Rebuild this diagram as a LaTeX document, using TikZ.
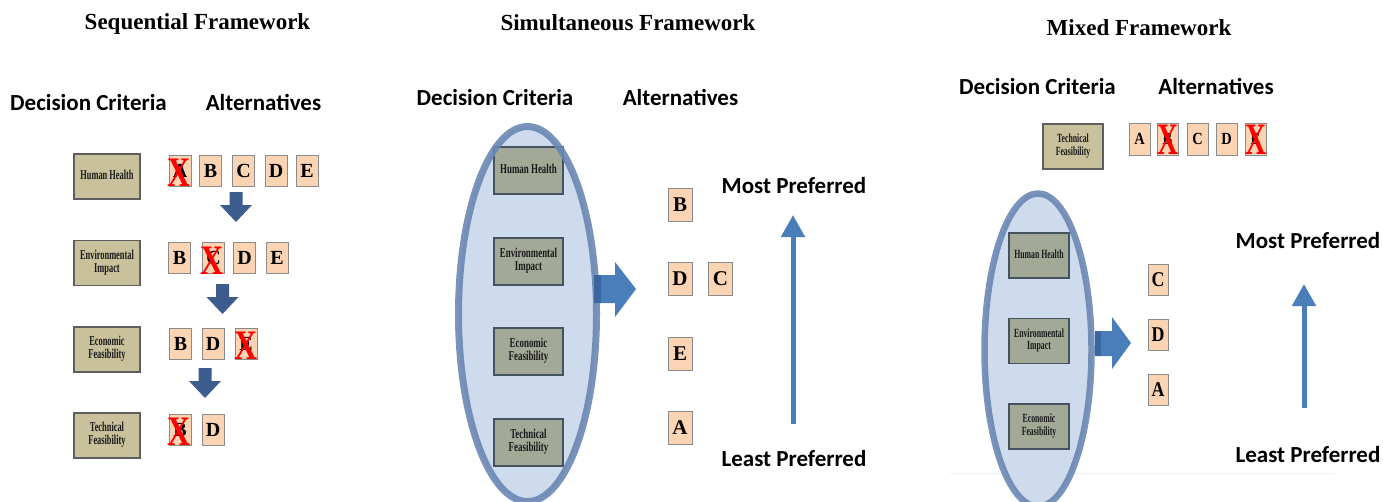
\documentclass[tikz,border=0pt]{standalone}
\usepackage{fontspec}
\setmainfont{Liberation Serif}
\newfontfamily\calib{Carlito}
\usetikzlibrary{arrows.meta}
\definecolor{khaki}{HTML}{C9C19B}
\definecolor{critborder}{HTML}{5E5E5E}
\definecolor{critinfill}{HTML}{A3A997}
\definecolor{critinborder}{HTML}{45525F}
\definecolor{peach}{HTML}{FBD4B4}
\definecolor{altborder}{HTML}{8A8A8A}
\definecolor{arrdark}{HTML}{3B5C8C}
\definecolor{arrblue}{HTML}{4A7EBB}
\definecolor{ellfill}{HTML}{CDDBED}
\definecolor{ellborder}{HTML}{6A87B3}
\definecolor{arrover}{HTML}{3A679F}
\newcommand\ct[2]{\scalebox{#1}[1]{\begin{tabular}{@{}c@{}}#2\end{tabular}}}
\newcommand\xs[2]{\scalebox{#1}[1]{#2}}
\tikzset{
  ttl/.style={font=\bfseries\fontsize{23}{27}\selectfont, anchor=base, inner sep=0},
  hdr/.style={font=\calib\bfseries\fontsize{23}{27}\selectfont, anchor=base, inner sep=0},
  crit/.style={draw=critborder, fill=khaki, line width=1.2pt, minimum width=66, minimum height=45, inner sep=0, text=black!90, font=\bfseries\fontsize{13.5}{13}\selectfont},
  critin/.style={crit, fill=critinfill, draw=critinborder, minimum width=69, minimum height=47},
  alt/.style={draw=altborder, fill=peach, line width=1pt, minimum width=22, minimum height=31, inner sep=0, font=\bfseries\fontsize{20}{24}\selectfont},
  redx/.style={text=red, inner sep=0, font=\bfseries\fontsize{42}{42}\selectfont},
  uparr/.style={draw=arrblue, line width=5pt, -{Triangle[width=23pt,length=22pt]}},
  blockdown/.pic={\fill[arrdark] (-6.5,0) -- (6.5,0) -- (6.5,13) -- (16,13) -- (0,30) -- (-16,13) -- (-6.5,13) -- cycle;}
}
\begin{document}
\begin{tikzpicture}[x=1pt,y=-1pt]
\useasboundingbox (0,0) rectangle (1383,501);
\clip (0,0) rectangle (1383,501);
% titles
\node[ttl] (t1) at (197.5,29) {Sequential Framework};
\node[ttl] (t2) at (628,30) {Simultaneous Framework};
\node[ttl] (t3) at (1139,35) {Mixed Framework};

% ---------------- panel 1
\node[hdr] (dc1) at (88.5,110) {Decision Criteria};
\node[hdr] (al1) at (263.5,110) {Alternatives};
\node[crit] (hh1) at (107,176.5) {\ct{0.62}{Human Health}};
\node[crit] (ei1) at (107,263) {\ct{0.62}{Environmental\\Impact}};
\node[crit] (ef1) at (107,349.5) {\ct{0.62}{Economic\\Feasibility}};
\node[crit] (tf1) at (107,435.5) {\ct{0.62}{Technical\\Feasibility}};
% row 1
\node[alt] (r1a) at (180,170.5) {A};
\node[alt] (r1b) at (210.5,170.5) {B};
\node[alt] (r1c) at (243.5,170.5) {C};
\node[alt] (r1d) at (276,170.5) {D};
\node[alt] (r1e) at (307,170.5) {E};
\node[redx] (x1) at (179,173) {\xs{0.76}{X}};
\pic at (236,192) {blockdown};
% row 2
\node[alt] (r2b) at (179.5,257.5) {B};
\node[alt] (r2c) at (213.5,257.5) {C};
\node[alt] (r2d) at (244.5,257.5) {D};
\node[alt] (r2e) at (277,257.5) {E};
\node[redx] (x2) at (212.5,261) {\xs{0.76}{X}};
\pic at (222.5,284) {blockdown};
% row 3
\node[alt] (r3b) at (180.5,344) {B};
\node[alt] (r3d) at (213,344) {D};
\node[alt] (r3e) at (246,344) {E};
\node[redx] (x3) at (246,346) {\xs{0.76}{X}};
\pic at (205,368) {blockdown};
% row 4
\node[alt] (r4b) at (180,429.5) {B};
\node[alt] (r4d) at (213,429.5) {D};
\node[redx] (x4) at (179,432) {\xs{0.76}{X}};

% ---------------- panel 2
\node[hdr] (dc2) at (495,105) {Decision Criteria};
\node[hdr] (al2) at (680.5,105) {Alternatives};
\fill[ellfill] (527.5,314) ellipse [x radius=69, y radius=187.5];
\node[critin] (hh2) at (528.5,170.5) {\ct{0.66}{Human Health}};
\node[critin] (ei2) at (528.5,261.5) {\ct{0.66}{Environmental\\Impact}};
\node[critin] (ef2) at (528.5,351.5) {\ct{0.66}{Economic\\Feasibility}};
\node[critin] (tf2) at (528.5,442.5) {\ct{0.66}{Technical\\Feasibility}};
\draw[ellborder, line width=7pt, opacity=0.9] (527.5,314) ellipse [x radius=69, y radius=187.5];
\fill[arrblue] (594,275) -- (615,275) -- (615,262) -- (636,289) -- (615,317) -- (615,303) -- (594,303) -- cycle;
\fill[arrover] (594,275) rectangle (601,303);
\begin{scope}[every node/.style={alt, minimum width=24, minimum height=33, font=\bfseries\fontsize{21}{24}\selectfont}]
\node (s2b) at (680,205) {B};
\node (s2d) at (680,279) {D};
\node (s2c) at (720.5,279) {C};
\node (s2e) at (680,354) {E};
\node (s2a) at (680,428) {A};
\end{scope}
\node[hdr] (mp2) at (794,193) {Most Preferred};
\node[hdr] (lp2) at (794,466) {Least Preferred};
\coordinate (ua2) at (793,424);
\coordinate (ub2) at (793,215);
\draw[uparr] (ua2) -- (ub2);

% ---------------- panel 3
\draw[black!6, line width=1pt] (950,473) -- (1335,473);
\node[hdr] (dc3) at (1037.5,94) {Decision Criteria};
\node[hdr] (al3) at (1216,94) {Alternatives};
\node[crit, minimum width=60, minimum height=45, font=\bfseries\fontsize{12.5}{12}\selectfont] (tf3) at (1073,146.5) {\ct{0.62}{Technical\\Feasibility}};
\begin{scope}[every node/.style={alt, minimum width=21, minimum height=32, font=\bfseries\fontsize{17}{20}\selectfont}]
\node (m3a) at (1139.5,139) {\xs{0.85}{A}};
\node (m3b) at (1167.5,139) {\xs{0.85}{B}};
\node (m3c) at (1197.5,139) {\xs{0.85}{C}};
\node (m3d) at (1226.5,139) {\xs{0.85}{D}};
\node (m3e) at (1255.5,139) {\xs{0.85}{E}};
\end{scope}
\node[redx, font=\bfseries\fontsize{45}{45}\selectfont] (x5) at (1168,140) {\xs{0.65}{X}};
\node[redx, font=\bfseries\fontsize{45}{45}\selectfont] (x6) at (1256,140) {\xs{0.65}{X}};
\fill[ellfill] (1038,350) ellipse [x radius=53.5, y radius=156.5];
\begin{scope}[every node/.style={critin, minimum width=60, minimum height=45, font=\bfseries\fontsize{12.5}{12}\selectfont}]
\node (hh3) at (1039,255.5) {\ct{0.62}{Human Health}};
\node (ei3) at (1039,341) {\ct{0.62}{Environmental\\Impact}};
\node (ef3) at (1039,426.5) {\ct{0.62}{Economic\\Feasibility}};
\end{scope}
\draw[ellborder, line width=6.5pt, opacity=0.9] (1038,350) ellipse [x radius=53.5, y radius=156.5];
\fill[arrblue] (1095,331) -- (1112,331) -- (1112,317) -- (1131,343) -- (1112,369) -- (1112,356) -- (1095,356) -- cycle;
\fill[arrover] (1095,331) rectangle (1101,356);
\begin{scope}[every node/.style={alt, minimum width=20, minimum height=31, font=\bfseries\fontsize{21}{24}\selectfont}]
\node (c3c) at (1158,279.5) {\xs{0.85}{C}};
\node (c3d) at (1158,334.5) {\xs{0.85}{D}};
\node (c3a) at (1158,389.5) {\xs{0.85}{A}};
\end{scope}
\node[hdr] (mp3) at (1308,248) {Most Preferred};
\node[hdr] (lp3) at (1308,462) {Least Preferred};
\coordinate (ua3) at (1304,408);
\coordinate (ub3) at (1304,284);
\draw[uparr] (ua3) -- (ub3);
\end{tikzpicture}
\end{document}
